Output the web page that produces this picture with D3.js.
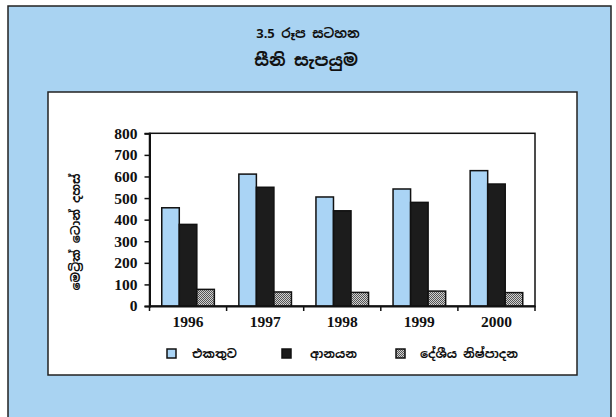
<!DOCTYPE html>
<html><head><meta charset="utf-8">
<script src="https://cdn.jsdelivr.net/npm/d3@7"></script>
<style>body{margin:0;background:#fff}</style>
</head><body>
<svg id="c" width="616" height="417"></svg>
<script>
const years = ["1996","1997","1998","1999","2000"];
const seriesNames = ["එකතුව","ආනයන","දේශීය නිෂ්පාදන"];
const total = [455, 611, 505, 542, 627];
const imports = [378, 550, 441, 480, 565];
const domestic = [77, 65, 63, 69, 62];
const yTicks = [0,100,200,300,400,500,600,700,800];
const title1 = "3.5 රූප සටහන";
const title2 = "සීනි සැපයුම";
const yLabel = "මෙට්‍රික් ටොන් දහස්";

const svg = d3.select("#c");
const defs = svg.append("defs");
const pat = defs.append("pattern").attr("id","chk").attr("width",2).attr("height",2).attr("patternUnits","userSpaceOnUse");
pat.append("rect").attr("width",2).attr("height",2).attr("fill","#d0d0d0");
pat.append("rect").attr("width",1).attr("height",1).attr("fill","#555");
pat.append("rect").attr("x",1).attr("y",1).attr("width",1).attr("height",1).attr("fill","#555");

// outer blue panel
svg.append("rect").attr("x",8).attr("y",6).attr("width",603).attr("height",420)
  .attr("fill","#a9d3f2").attr("stroke","#222").attr("stroke-width",1.5);
// inner white panel
svg.append("rect").attr("x",48).attr("y",92).attr("width",529).attr("height",283)
  .attr("fill","#fff").attr("stroke","#222").attr("stroke-width",1.5);

const sinh = "'Noto Sans Sinhala','Iskoola Pota','Noto Sans',sans-serif";
const serif = "'Liberation Serif','DejaVu Serif',serif";
svg.append("text").attr("x",308).attr("y",38).attr("text-anchor","middle")
  .attr("font-family",sinh).attr("font-weight","bold").attr("font-size",13).attr("fill","#111").text(title1);
svg.append("text").attr("x",306).attr("y",66).attr("text-anchor","middle")
  .attr("font-family",sinh).attr("font-weight","bold").attr("font-size",17).attr("fill","#111").text(title2);

const x0 = 149.5, x1 = 535, yTop = 133.3, yBot = 306;
const x = d3.scaleBand().domain(years).range([x0,x1]);
const y = d3.scaleLinear().domain([0,800]).range([yBot,yTop]);
const xs = d3.scaleBand().domain(d3.range(3)).range([0, 52.6]);
const grpOff = (x.bandwidth()-52.6)/2;

// plot frame
svg.append("rect").attr("x",x0).attr("y",yTop).attr("width",x1-x0).attr("height",yBot-yTop)
  .attr("fill","none").attr("stroke","#111").attr("stroke-width",1.5);

const fills = ["#aad4f5","#1c1c1c","url(#chk)"];
const data = [total, imports, domestic];
years.forEach((yr,i)=>{
  data.forEach((arr,s)=>{
    svg.append("rect")
      .attr("x", x(yr)+grpOff+xs(s))
      .attr("y", y(arr[i]))
      .attr("width", xs.bandwidth())
      .attr("height", yBot - y(arr[i]))
      .attr("fill", fills[s]).attr("stroke","#111").attr("stroke-width",1.5);
  });
});

// y axis
const ya = svg.append("g").attr("transform",`translate(${x0},0)`)
  .call(d3.axisLeft(y).tickValues(yTicks).tickSize(5).tickPadding(7));
ya.select(".domain").attr("stroke","#111").attr("stroke-width",2);
ya.selectAll(".tick line").attr("stroke","#111").attr("stroke-width",1.5);
ya.selectAll("text").attr("font-family",serif)
  .attr("font-weight","bold").attr("font-size",15.5).attr("fill","#111");

// x axis
const xa = svg.append("g").attr("transform",`translate(0,${yBot})`)
  .call(d3.axisBottom(x).tickSize(0).tickPadding(10));
xa.select(".domain").attr("stroke","#111").attr("stroke-width",2);
xa.selectAll("text").attr("font-family",serif)
  .attr("font-weight","bold").attr("font-size",15.5).attr("fill","#111");
// category boundary ticks
years.forEach(yr=>{
  svg.append("line").attr("x1",x(yr)).attr("x2",x(yr)).attr("y1",yBot).attr("y2",yBot+5)
    .attr("stroke","#111").attr("stroke-width",1.5);
});
svg.append("line").attr("x1",x1).attr("x2",x1).attr("y1",yBot).attr("y2",yBot+5)
  .attr("stroke","#111").attr("stroke-width",1.5);

// y label
svg.append("text").attr("transform","translate(80,232) rotate(-90)").attr("text-anchor","middle")
  .attr("font-family",sinh).attr("font-weight","bold").attr("font-size",12).attr("fill","#111").text(yLabel);

// legend
const legX = [167, 282, 396];
const legTX = [192, 310, 420];
seriesNames.forEach((n,s)=>{
  svg.append("rect").attr("x",legX[s]).attr("y",349).attr("width",9).attr("height",9)
    .attr("fill",fills[s]).attr("stroke","#111").attr("stroke-width",1.5);
  svg.append("text").attr("x",legTX[s]).attr("y",358)
    .attr("font-family",sinh).attr("font-weight","bold").attr("font-size",12).attr("fill","#111").text(n);
});
</script>
</body></html>
